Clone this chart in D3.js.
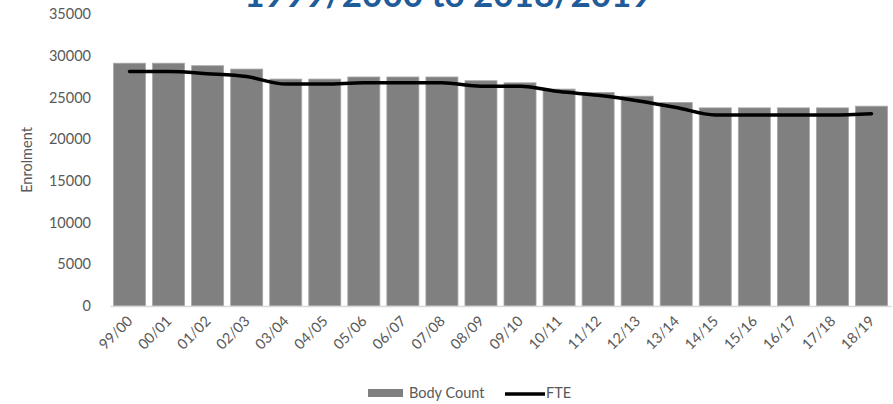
<!DOCTYPE html>
<html>
<head>
<meta charset="utf-8">
<script src="https://cdn.jsdelivr.net/npm/d3@7"></script>
<style>
  body { margin: 0; background: #fff; }
  svg text { font-family: Lato, "Open Sans", sans-serif; }
</style>
</head>
<body>
<svg id="chart" width="893" height="404"></svg>
<script>
const years = ["99/00", "00/01", "01/02", "02/03", "03/04", "04/05", "05/06", "06/07", "07/08", "08/09",
               "09/10", "10/11", "11/12", "12/13", "13/14", "14/15", "15/16", "16/17", "17/18", "18/19"];
const bodyCount = [29100, 29100, 28800, 28400, 27200, 27200, 27450, 27450, 27450, 27000,
                   26750, 26000, 25600, 25150, 24400, 23750, 23750, 23750, 23750, 23950];
const fte = [28100, 28100, 27850, 27500, 26600, 26600, 26750, 26750, 26750, 26350,
             26350, 25700, 25250, 24600, 23800, 22900, 22900, 22900, 22900, 23050];
const yTicks = [0, 5000, 10000, 15000, 20000, 25000, 30000, 35000];
const title = "1999/2000 to 2018/2019";

const svg = d3.select("#chart");
const plotLeft = 110, plotRight = 891, plotTop = 14, plotBottom = 306;

const x = d3.scaleBand().domain(years).range([plotLeft, plotRight]).paddingInner(0.18).paddingOuter(0.09);
const y = d3.scaleLinear().domain([0, 35000]).range([plotBottom, plotTop]);

// title (mostly cut off above the frame)
svg.append("text")
    .attr("x", 448).attr("y", 7)
    .attr("text-anchor", "middle")
    .attr("fill", "#1f5c99")
    .attr("font-weight", "bold")
    .attr("font-size", 35)
    .text(title);

// y axis, no line, labels only
const yAxis = svg.append("g")
    .attr("transform", `translate(${plotLeft},0)`)
    .call(d3.axisLeft(y).tickValues(yTicks).tickSize(0).tickPadding(19).tickFormat(d3.format("d")));
yAxis.select(".domain").remove();
yAxis.selectAll("text").attr("fill", "#595959").attr("font-size", 14.5);

svg.append("text")
    .attr("transform", `translate(32,${(plotTop + plotBottom) / 2}) rotate(-90)`)
    .attr("text-anchor", "middle")
    .attr("fill", "#595959")
    .attr("font-size", 14.5)
    .text("Enrolment");

// bars
svg.append("g").selectAll("rect")
    .data(years)
    .join("rect")
    .attr("x", d => x(d))
    .attr("y", (d, i) => y(bodyCount[i]))
    .attr("width", x.bandwidth())
    .attr("height", (d, i) => y(0) - y(bodyCount[i]))
    .attr("fill", "#808080")
    .attr("stroke", "#a6a6a6")
    .attr("stroke-width", 0.8);

// x axis
const xAxis = svg.append("g")
    .attr("transform", `translate(0,${plotBottom})`)
    .call(d3.axisBottom(x).tickSize(0).tickPadding(0));
xAxis.select(".domain").attr("stroke", "#d9d9d9").attr("stroke-width", 1.5);
xAxis.selectAll("text")
    .attr("fill", "#595959")
    .attr("font-size", 14.5)
    .attr("text-anchor", "end")
    .attr("dy", null)
    .attr("transform", "translate(4,16) rotate(-45)");

// FTE line
const line = d3.line()
    .x((d, i) => x(years[i]) + x.bandwidth() / 2)
    .y(d => y(d))
    .curve(d3.curveMonotoneX);

svg.append("path")
    .datum(fte)
    .attr("d", line)
    .attr("fill", "none")
    .attr("stroke", "#000")
    .attr("stroke-width", 3.5)
    .attr("stroke-linecap", "round")
    .attr("stroke-linejoin", "round");

// legend
const legend = svg.append("g");
legend.append("rect")
    .attr("x", 368).attr("y", 389).attr("width", 35).attr("height", 8)
    .attr("fill", "#808080");
legend.append("text")
    .attr("x", 409).attr("y", 398)
    .attr("fill", "#595959").attr("font-size", 14.5)
    .text("Body Count");
legend.append("line")
    .attr("x1", 505).attr("x2", 545).attr("y1", 394).attr("y2", 394)
    .attr("stroke", "#000").attr("stroke-width", 3.5);
legend.append("text")
    .attr("x", 546).attr("y", 398)
    .attr("fill", "#595959").attr("font-size", 14.5)
    .text("FTE");
</script>
</body>
</html>
